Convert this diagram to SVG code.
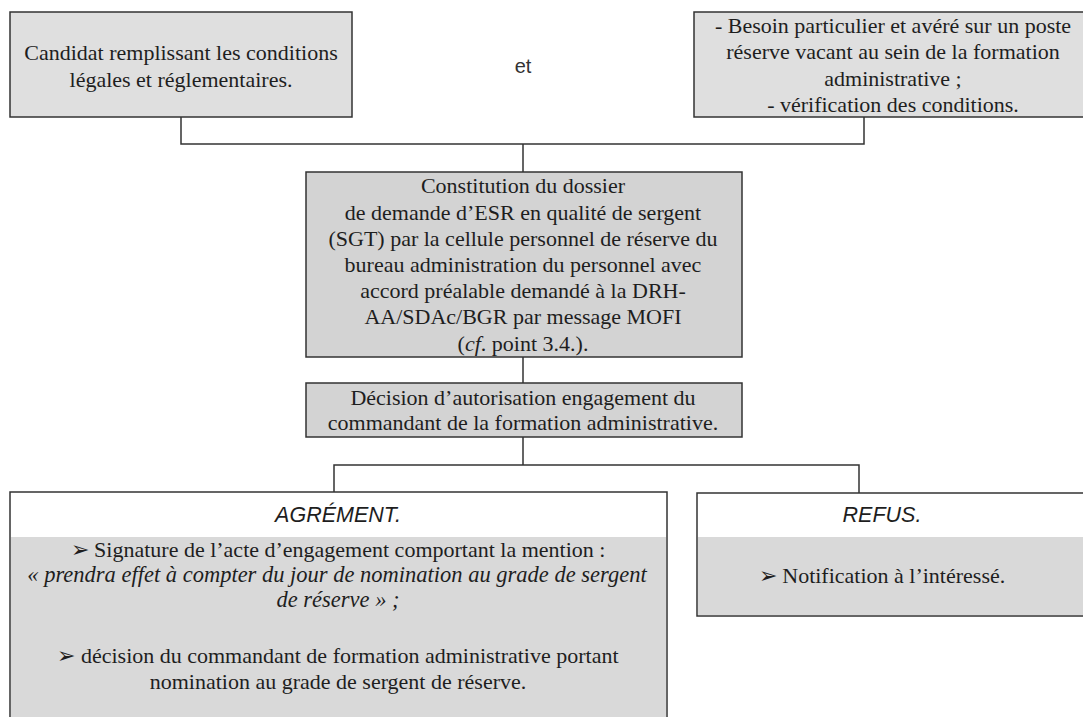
<svg xmlns="http://www.w3.org/2000/svg" width="1083" height="717" viewBox="0 0 1083 717">
<style>
.box{stroke:#333;stroke-width:1.5}
.l1{fill:#dfdfdf}
.l2{fill:#d3d3d3}
.t{font-family:"Liberation Serif","Times New Roman",serif;font-size:22px;fill:#1e1e1e;text-anchor:middle}
.i{font-style:italic}
.big{font-size:22.5px}
.h{font-family:"Liberation Sans",Arial,sans-serif;font-size:21.5px;font-style:italic;fill:#1e1e1e;text-anchor:middle}
.c{fill:none;stroke:#333;stroke-width:1.5}
</style>
<rect width="1083" height="717" fill="#fff"/>
<g id="connectors">
<path class="c" d="M181 117V144H864V117M523 144V172M523 357V383M523 437V465M334 492V465H859V493"/>
</g>
<g id="candidat">
<rect class="box l1" x="10" y="12" width="342" height="105"/>
<text class="t" x="181" y="60">Candidat remplissant les conditions</text>
<text class="t" x="181" y="87">légales et réglementaires.</text>
</g>
<g id="et">
<text x="523" y="73" font-family="Liberation Sans,Arial,sans-serif" font-size="20" fill="#333" text-anchor="middle">et</text>
</g>
<g id="besoin">
<rect class="box l1" x="694" y="12" width="400" height="105"/>
<text class="t" x="893" y="33">- Besoin particulier et avéré sur un poste</text>
<text class="t" x="893" y="59">réserve vacant au sein de la formation</text>
<text class="t" x="893" y="86">administrative ;</text>
<text class="t" x="893" y="112">- vérification des conditions.</text>
</g>
<g id="constitution">
<rect class="box l2" x="306" y="172" width="436" height="185"/>
<text class="t" x="523" y="193">Constitution du dossier</text>
<text class="t" x="523" y="220">de demande d’ESR en qualité de sergent</text>
<text class="t" x="523" y="246">(SGT) par la cellule personnel de réserve du</text>
<text class="t" x="523" y="272">bureau administration du personnel avec</text>
<text class="t" x="523" y="298">accord préalable demandé à la DRH-</text>
<text class="t" x="523" y="324">AA/SDAc/BGR par message MOFI</text>
<text class="t" x="523" y="351">(<tspan class="i">cf</tspan>. point 3.4.).</text>
</g>
<g id="decision">
<rect class="box l2" x="306" y="383" width="436" height="54"/>
<text class="t" x="523" y="405">Décision d’autorisation engagement du</text>
<text class="t" x="523" y="430">commandant de la formation administrative.</text>
</g>
<g id="agrement">
<rect x="10" y="492" width="657" height="240" fill="#fff" class="box"/>
<rect x="11" y="537" width="655" height="190" fill="#d9d9d9"/>
<text class="h" x="338" y="522">AGRÉMENT.</text>
<text class="t" x="338" y="557">➢ Signature de l’acte d’engagement comportant la mention :</text>
<text class="t i big" x="337" y="582">« prendra effet à compter du jour de  nomination au grade de sergent</text>
<text class="t i big" x="338" y="607">de réserve » ;</text>
<text class="t" x="338" y="663">➢ décision du commandant de formation administrative portant</text>
<text class="t" x="338" y="689">nomination au grade de sergent de réserve.</text>
</g>
<g id="refus">
<rect x="697" y="493" width="400" height="123" fill="#fff" class="box"/>
<rect x="698" y="537" width="398" height="78" fill="#d9d9d9"/>
<text class="h" x="882" y="522">REFUS.</text>
<text class="t" x="882" y="583">➢ Notification à l’intéressé.</text>
</g>
</svg>
